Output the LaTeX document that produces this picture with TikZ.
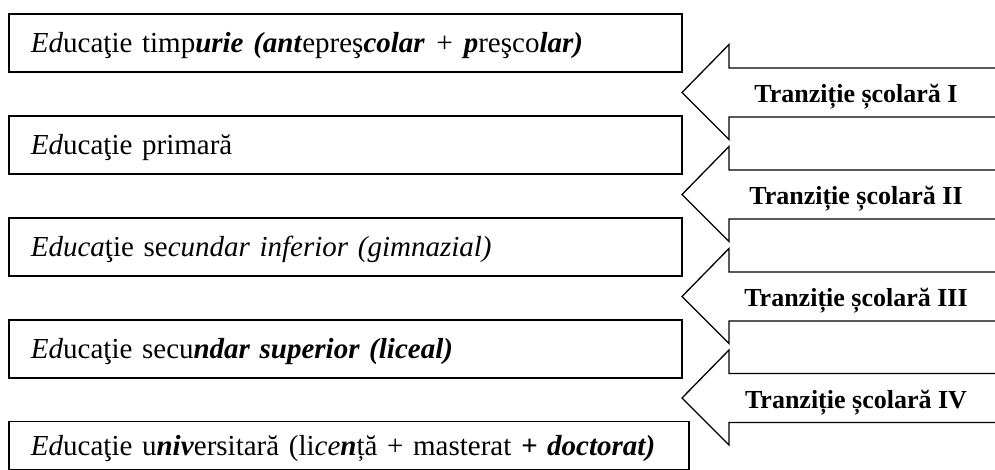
\documentclass[tikz,border=0pt]{standalone}
\usepackage{fontspec}
\setmainfont{Liberation Serif}
\newcommand{\bi}[1]{\textbf{\textit{#1}}}
\begin{document}
\begin{tikzpicture}[x=1pt,y=-1pt,
  levelbox/.style={draw=black, line width=1.8pt, anchor=north west, align=left,
    inner xsep=22pt, inner ysep=0pt, font=\fontsize{29}{34}\selectfont,
    text height=20pt, text depth=0pt},
  trarrow/.style={draw=black, line width=1.3pt, line join=miter},
  trlabel/.style={font=\fontsize{26}{30}\selectfont\bfseries, anchor=base}]
\useasboundingbox (0,0) rectangle (995,470);
\node[levelbox, minimum width=673pt, minimum height=58pt, text width=629pt] (b1) at (8,13)
  {\textit{Ed}ucaţie timp\bi{urie (ant}epreş\bi{colar} \textit{+} \bi{p}reşco\bi{lar)}};
\node[levelbox, minimum width=673pt, minimum height=58pt, text width=629pt] (b2) at (8,115)
  {\textit{Ed}ucaţie primară};
\node[levelbox, minimum width=673pt, minimum height=58pt, text width=629pt] (b3) at (8,217)
  {\textit{Educa}ţie se\textit{cundar inferior (gimnazial)}};
\node[levelbox, minimum width=673pt, minimum height=58pt, text width=629pt] (b4) at (8,319)
  {\textit{Ed}ucaţie secu\bi{ndar superior (liceal)}};
\node[levelbox, minimum width=680pt, minimum height=48pt, text width=636pt] (b5) at (8,420.5)
  {\textit{Ed}ucaţie u\bi{niv}ersitară (li\textit{ce}\bi{n}ță + masterat \bi{+ doctorat)}};
\foreach \c/\t [count=\i] in {92.5/I, 194.5/II, 296.5/III, 398/IV} {
  \draw[trarrow] (997,\c-24.5) -- (729,\c-24.5) -- (729,\c-48) -- (682,\c)
    -- (729,\c+47) -- (729,\c+24.5) -- (997,\c+24.5);
  \node[trlabel] (t\i) at (856,\c+10) {Tranziție școlară \t};
}
\end{tikzpicture}
\end{document}
